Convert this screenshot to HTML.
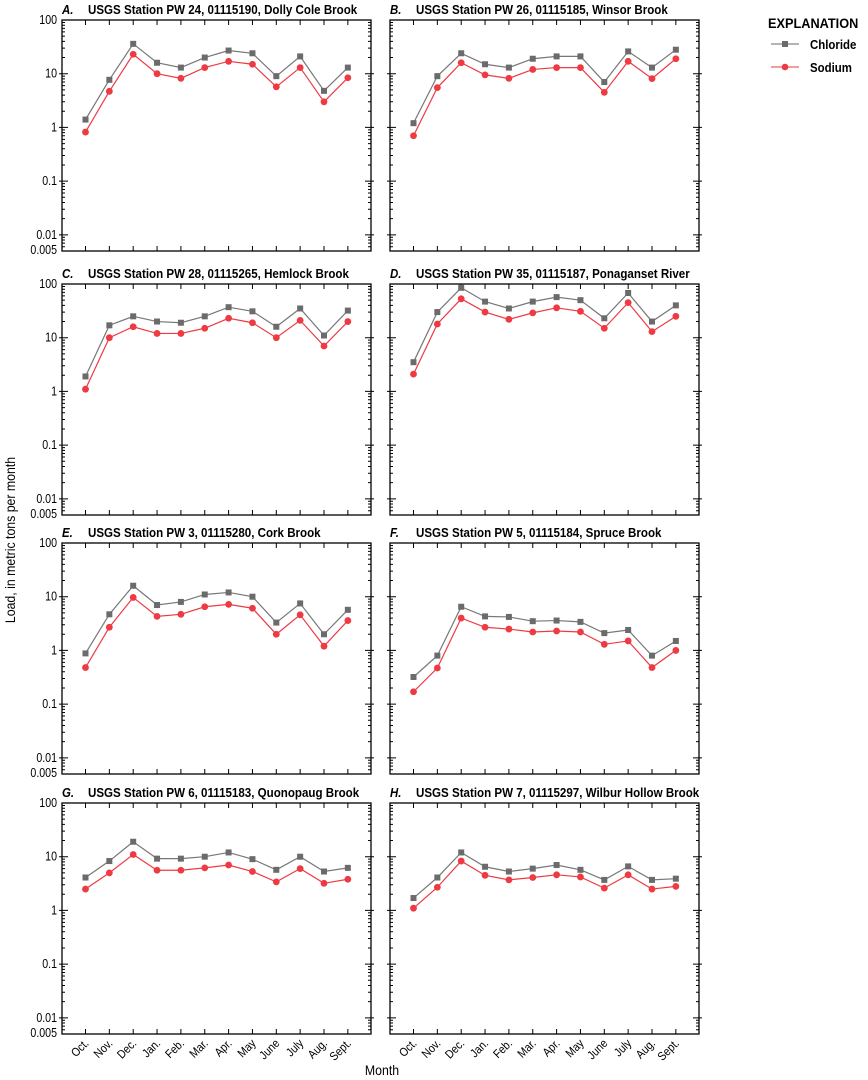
<!DOCTYPE html>
<html><head><meta charset="utf-8">
<style>
body{margin:0;background:#fff;}
svg{display:block;font-family:"Liberation Sans",sans-serif;}
</style></head><body>
<svg id="chart" width="868" height="1080" viewBox="0 0 868 1080" xmlns="http://www.w3.org/2000/svg">
<g id="panels"></g>
<g>
 <text transform="translate(768,28) scale(0.91,1)" font-size="14" font-weight="bold">EXPLANATION</text>
 <g>
  <line x1="771" y1="44" x2="799" y2="44" stroke="#888" stroke-width="1.2"/>
  <rect x="782" y="41" width="6" height="6" fill="#6b6b6b"/>
  <text transform="translate(810,49) scale(0.88,1)" font-size="13" font-weight="bold">Chloride</text>
 </g>
 <g>
  <line x1="771" y1="67" x2="799" y2="67" stroke="#f06060" stroke-width="1.2"/>
  <circle cx="785" cy="67" r="3.3" fill="#ee3a43"/>
  <text transform="translate(810,72) scale(0.88,1)" font-size="13" font-weight="bold">Sodium</text>
 </g>
</g>
<text transform="translate(15,540) rotate(-90) scale(0.88,1)" text-anchor="middle" font-size="14">Load, in metric tons per month</text>
<text transform="translate(382,1075) scale(0.88,1)" text-anchor="middle" font-size="14">Month</text>
</svg>
<script>
const months=["Oct.","Nov.","Dec.","Jan.","Feb.","Mar.","Apr.","May","June","July","Aug.","Sept."];
const panelLetters=["A.","B.","C.","D.","E.","F.","G.","H."];
const panelTitles=["USGS Station PW 24, 01115190, Dolly Cole Brook","USGS Station PW 26, 01115185, Winsor Brook","USGS Station PW 28, 01115265, Hemlock Brook","USGS Station PW 35, 01115187, Ponaganset River","USGS Station PW 3, 01115280, Cork Brook","USGS Station PW 5, 01115184, Spruce Brook","USGS Station PW 6, 01115183, Quonopaug Brook","USGS Station PW 7, 01115297, Wilbur Hollow Brook"];
const chlorideA=[1.4,7.7,36,16,13,20,27,24,9,21,4.8,13];
const sodiumA=[0.82,4.7,23,10,8.2,13,17,15,5.7,13,3,8.4];
const chlorideB=[1.2,9,24,15,13,19,21,21,7,26,13,28];
const sodiumB=[0.7,5.5,16,9.5,8.2,12,13,13,4.5,17,8.1,19];
const chlorideC=[1.9,17,25,20,19,25,37,31,16,35,11,32];
const sodiumC=[1.1,10,16,12,12,15,23,19,10,21,7,20];
const chlorideD=[3.5,30,85,47,35,47,57,50,23,68,20,40];
const sodiumD=[2.1,18,53,30,22,29,36,31,15,45,13,25];
const chlorideE=[0.88,4.7,16,7,8,11,12,10,3.3,7.5,2,5.7];
const sodiumE=[0.48,2.7,9.7,4.3,4.7,6.5,7.2,6.1,2,4.6,1.2,3.6];
const chlorideF=[0.32,0.8,6.5,4.3,4.2,3.5,3.6,3.4,2.1,2.4,0.8,1.5];
const sodiumF=[0.17,0.47,4,2.7,2.5,2.2,2.3,2.2,1.3,1.5,0.48,1.0];
const chlorideG=[4.1,8.3,19,9.2,9.2,10,12,9,5.7,10,5.3,6.2];
const sodiumG=[2.5,5,11,5.6,5.6,6.2,7,5.3,3.4,6,3.2,3.8];
const chlorideH=[1.7,4.1,12,6.5,5.3,6,7,5.7,3.7,6.6,3.7,3.9];
const sodiumH=[1.1,2.7,8.3,4.5,3.7,4.1,4.6,4.2,2.6,4.6,2.5,2.8];
const yTickValues=[100,10,1,0.1,0.01,0.005];
const yTickLabels=["100","10","1","0.1","0.01","0.005"];

const chlorideAll=[chlorideA,chlorideB,chlorideC,chlorideD,chlorideE,chlorideF,chlorideG,chlorideH];
const sodiumAll=[sodiumA,sodiumB,sodiumC,sodiumD,sodiumE,sodiumF,sodiumG,sodiumH];
const NS="http://www.w3.org/2000/svg";
const root=document.getElementById('panels');
function mk(tag,attrs,parent){const e=document.createElementNS(NS,tag);for(const k in attrs)e.setAttribute(k,attrs[k]);parent.appendChild(e);return e;}
const colX=[62,390], rowY=[20,284,543,803], W=309, H=231;
for(let p=0;p<8;p++){
  const x0=colX[p%2], y0=rowY[Math.floor(p/2)];
  const g=mk('g',{},root);
  
  
  const lo=Math.log10(0.005), hi=2;
  const ys=v=>y0+(hi-Math.log10(v))/(hi-lo)*H;
  const xs=i=>x0+23.5+i*23.85;
  const lt=mk('text',{transform:`translate(${x0},${y0-6}) scale(0.88,1)`,'font-size':13,'font-weight':'bold','font-style':'italic'},g);
  
  
  lt.textContent=panelLetters[p];
  const t=mk('text',{transform:`translate(${x0+26},${y0-6}) scale(0.89,1)`,'font-size':13,'font-weight':'bold'},g);
  
  
  t.textContent=panelTitles[p];
  const fr=mk('rect',{x:x0,y:y0,width:W,height:H,fill:'none',stroke:'#000','stroke-width':1.3},g);
  
  
  let path='';
  for(let d=-3;d<2;d++){for(let m=1;m<10;m++){const v=m*Math.pow(10,d);if(v<0.005)continue;const y=ys(v);
    if(m===1){path+=`M${x0-3} ${y}H${x0+6}M${x0+W-6} ${y}H${x0+W+3}`;}else{path+=`M${x0} ${y}H${x0+3}M${x0+W-3} ${y}H${x0+W}`;}}}
  for(let i=0;i<12;i++){const x=xs(i);path+=`M${x} ${y0}V${y0+5}M${x} ${y0+H-5}V${y0+H}`;}
  mk('path',{d:path,stroke:'#000','stroke-width':1,fill:'none'},g);
  if(p%2===0){
    yTickValues.forEach((v,k)=>{const tt=mk('text',{transform:`translate(${x0-5},${ys(v)+(k===5?3:4)}) scale(0.85,1)`,'text-anchor':'end','font-size':12.5},g);
      
      
      tt.textContent=yTickLabels[k];});
  }
  if(p>=6){
    months.forEach((m,i)=>{const tt=mk('text',{transform:`translate(${xs(i)+4},${y0+H+10}) rotate(-45) scale(0.88,1)`,'text-anchor':'end','font-size':12},g);
      
      
      tt.textContent=m;});
  }
  const cl=chlorideAll[p], na=sodiumAll[p];
  const lc=mk('polyline',{points:cl.map((v,i)=>xs(i)+','+ys(v)).join(' '),fill:'none',stroke:'#777','stroke-width':1.2},g);
  
  
  const ln=mk('polyline',{points:na.map((v,i)=>xs(i)+','+ys(v)).join(' '),fill:'none',stroke:'#ee3a43','stroke-width':1.2},g);
  
  
  cl.forEach((v,i)=>{const r=mk('rect',{x:xs(i)-3,y:ys(v)-3,width:6,height:6,fill:'#6b6b6b'},g);
    
    });
  na.forEach((v,i)=>{const c=mk('circle',{cx:xs(i),cy:ys(v),r:3.4,fill:'#ee3a43'},g);
    
    });
}
</script>
</body></html>
